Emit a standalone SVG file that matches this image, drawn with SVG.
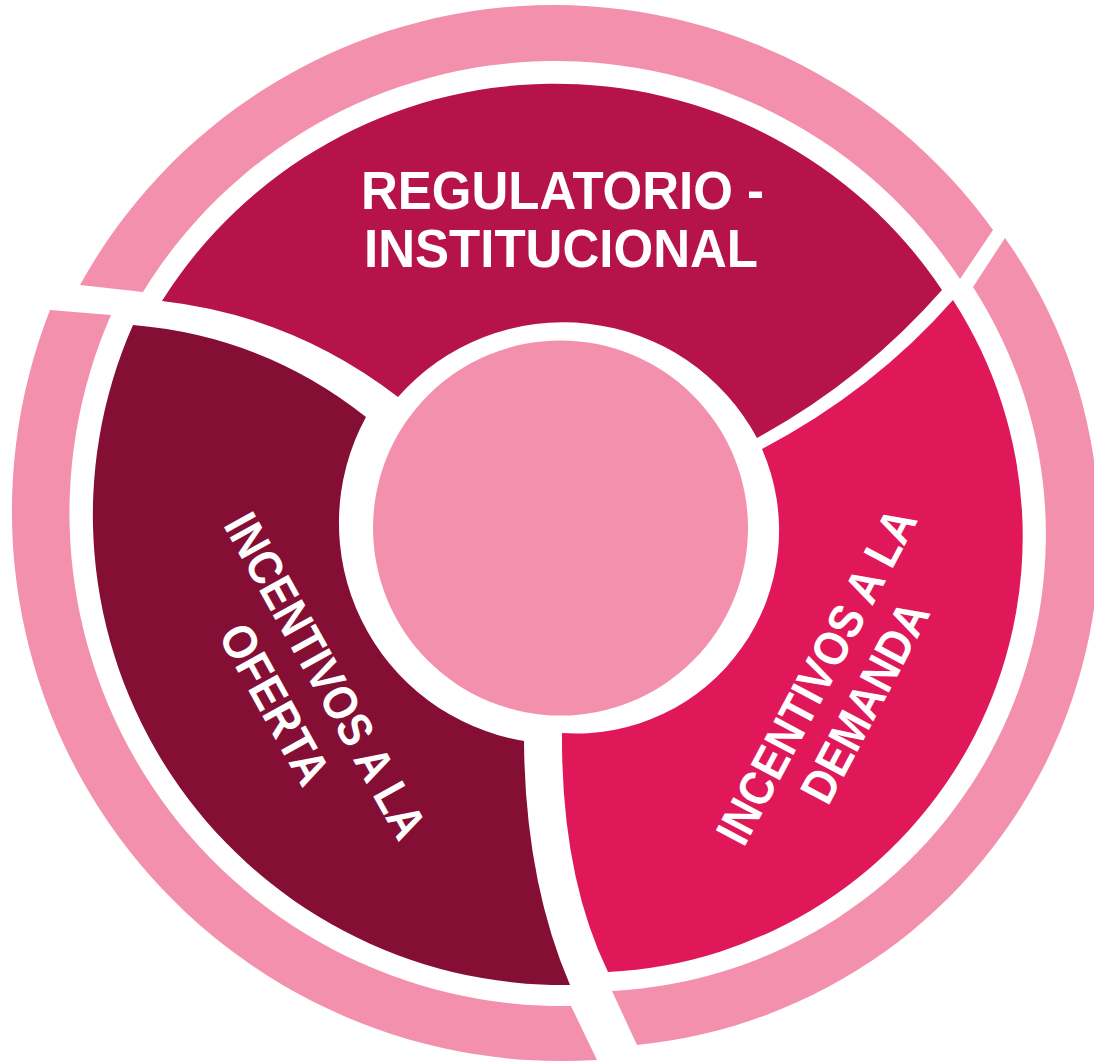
<svg xmlns="http://www.w3.org/2000/svg" width="1094" height="1063" viewBox="0 0 1094 1063">
  <style>
    .ring { fill: #F390AE; }
    .lbl { font-family: "Liberation Sans", Arial, sans-serif; font-weight: bold; fill: #FFFFFF; }
    .top { font-size: 53px; }
    .side { font-size: 48px; text-anchor: middle; }
  </style>
  <rect x="0" y="0" width="1094" height="1063" fill="#FFFFFF"/>
  <g id="outer-ring">
    <path id="outer-top" class="ring" d="M 80,285 A 541 541 0 0 1 993,230 L 960,279 A 484 484 0 0 0 143,292 Z"/>
    <path id="outer-left" class="ring" d="M 50,310 A 550 550 0 0 0 597,1060 L 571,1006 A 493 493 0 0 1 111,315 Z"/>
    <path id="outer-right" class="ring" d="M 1005,238 A 513 513 0 0 1 637,1045 L 612,991 A 457 457 0 0 0 973,287 Z"/>
  </g>
  <g id="regulatorio-institucional">
    <path fill="#B5134A" d="M 162,301 A 465 465 0 0 1 942,290 Q 863,380 757,438 A 220 220 0 0 0 398,397 Q 293,316 162,301 Z"/>
    <text class="lbl top" x="361" y="209" textLength="403" lengthAdjust="spacingAndGlyphs">REGULATORIO -</text>
    <text class="lbl top" x="364" y="267" textLength="394" lengthAdjust="spacingAndGlyphs">INSTITUCIONAL</text>
  </g>
  <g id="incentivos-oferta">
    <path fill="#850E35" d="M 133,325 Q 264,336 366,417 A 221 221 0 0 0 524,741 Q 525,880 570,985 A 470 470 0 0 1 133,325 Z"/>
    <g transform="translate(311,684) rotate(61)">
      <text class="lbl side" x="0" y="0" textLength="364" lengthAdjust="spacingAndGlyphs">INCENTIVOS A LA</text>
      <text class="lbl side" x="0" y="58" textLength="176" lengthAdjust="spacingAndGlyphs">OFERTA</text>
    </g>
  </g>
  <g id="incentivos-demanda">
    <path fill="#E0185A" d="M 953,300 Q 874,390 762,449 A 203 203 0 0 1 562,733 Q 561,875 608,972 A 436 436 0 0 0 953,300 Z"/>
    <g transform="translate(831,684) rotate(-62)">
      <text class="lbl side" x="0" y="0" textLength="372" lengthAdjust="spacingAndGlyphs">INCENTIVOS A LA</text>
      <text class="lbl side" x="0" y="55" textLength="220" lengthAdjust="spacingAndGlyphs">DEMANDA</text>
    </g>
  </g>
  <g id="centro">
    <circle cx="560.5" cy="528" r="187.5" fill="#F390AE"/>
  </g>
</svg>
